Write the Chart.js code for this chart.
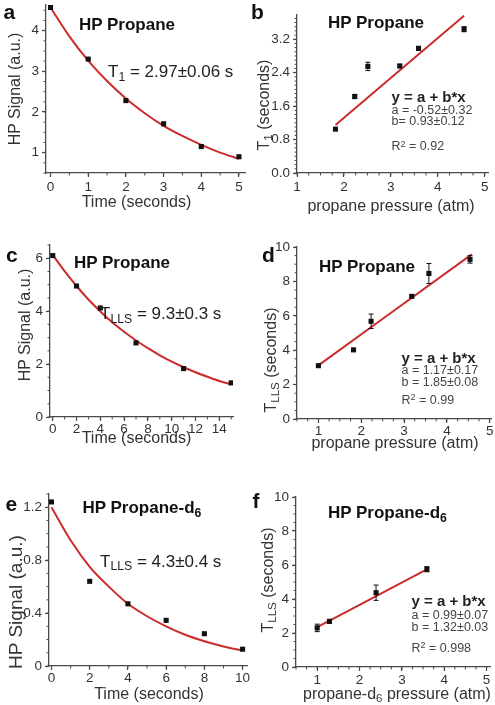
<!DOCTYPE html>
<html>
<head>
<meta charset="utf-8">
<script src="https://cdn.jsdelivr.net/npm/chart.js@4.4.1/dist/chart.umd.min.js"></script>
<style>
  html, body { margin: 0; padding: 0; background: #fff; }
  #fig { position: relative; width: 495px; height: 705px; overflow: hidden;
         font-family: "Liberation Sans", Arial, Helvetica, sans-serif; color: #222; }
  #fig canvas { position: absolute; }
  .txt { position: absolute; white-space: nowrap; line-height: 1; }
  .sub { font-size: 0.72em; position: relative; top: 0.3em; }
  .sup { font-size: 0.72em; position: relative; top: -0.42em; }
</style>
</head>
<body>
<div id="fig"></div>
<script>
/* ================= DATA ================= */
// a: HP propane T1 decay
const aTime = [0, 1, 2, 3, 4, 5];
const aSignal = [4.57, 3.30, 2.28, 1.71, 1.15, 0.90];
const aFitTime = [0, 0.5, 1, 1.5, 2, 2.5, 3, 3.5, 4, 4.5, 5];
const aFitSignal = [4.57, 3.86, 3.26, 2.76, 2.33, 1.97, 1.66, 1.41, 1.19, 1.00, 0.85];
const aTicksX = [0, 1, 2, 3, 4, 5];
const aTicksY = [1, 2, 3, 4];

// b: T1 vs propane pressure
const bPressure = [1.82, 2.23, 2.51, 3.19, 3.59, 4.56];
const bT1 = [1.05, 1.83, 2.55, 2.56, 2.98, 3.44];
const bErr = [0.03, 0.05, 0.10, 0.04, 0.05, 0.06];
const bFitX = [1.82, 4.56];
const bFitY = [1.15, 3.76];
const bTicksX = [1, 2, 3, 4, 5];
const bTicksY = [0, 0.8, 1.6, 2.4, 3.2];
const bLabelsY = ['0.0', '0.8', '1.6', '2.4', '3.2'];

// c: HP propane TLLS decay
const cTime = [0, 2, 4, 7, 11, 15];
const cSignal = [6.10, 4.95, 4.12, 2.80, 1.83, 1.29];
const cFitTime = [0, 1, 2, 3, 4, 5, 6, 7, 8, 9, 10, 11, 12, 13, 14, 15];
const cFitSignal = [6.13, 5.51, 4.95, 4.44, 3.99, 3.58, 3.22, 2.89, 2.60, 2.33, 2.09, 1.88, 1.69, 1.52, 1.36, 1.23];
const cTicksX = [0, 2, 4, 6, 8, 10, 12, 14];
const cTicksY = [0, 2, 4, 6];

// d: TLLS vs propane pressure
const dPressure = [1.00, 1.82, 2.23, 3.18, 3.58, 4.54];
const dTlls = [3.10, 4.02, 5.68, 7.13, 8.46, 9.28];
const dErr = [0.06, 0.05, 0.42, 0.06, 0.58, 0.22];
const dFitX = [1.00, 4.58];
const dFitY = [3.12, 9.57];
const dTicksX = [1, 2, 3, 4, 5];
const dTicksY = [0, 2, 4, 6, 8, 10];

// e: HP propane-d6 TLLS decay
const eTime = [0, 2, 4, 6, 8, 10];
const eSignal = [1.24, 0.64, 0.47, 0.345, 0.244, 0.127];
const eFitTime = [0, 1, 2, 3, 4, 5, 6, 7, 8, 9, 10];
const eFitSignal = [1.20, 0.95, 0.75, 0.60, 0.47, 0.376, 0.30, 0.236, 0.187, 0.148, 0.117];
const eTicksX = [0, 2, 4, 6, 8, 10];
const eTicksY = [0, 0.4, 0.8, 1.2];

// f: TLLS vs propane-d6 pressure
const fPressure = [1.00, 1.29, 2.39, 3.59];
const fTlls = [2.30, 2.68, 4.37, 5.75];
const fErr = [0.22, 0.12, 0.45, 0.15];
const fFitX = [1.00, 3.60];
const fFitY = [2.34, 5.76];
const fTicksX = [1, 2, 3, 4, 5];
const fTicksY = [0, 2, 4, 6, 8, 10];

/* ================= STYLE ================= */
const FONT = '"Liberation Sans", Arial, Helvetica, sans-serif';
const AXIS = '#4a4a4a';
const RED = '#cc2b2b';
const MARK = '#111';
const M = 24;     // spare canvas margin round each plot
const YAX = 45;   // y axis box width
const XAX = 30;   // x axis box height

const fig = document.getElementById('fig');

/* ================= PLUGINS ================= */
// small unlabeled ticks between the major ones
const minorTicks = {
    id: 'minorTicks',
    afterDraw(chart, args, opts) {
        const ctx = chart.ctx;
        ctx.save();
        ctx.strokeStyle = AXIS;
        ctx.lineWidth = 1;
        ['x', 'y'].forEach(id => {
            const s = chart.scales[id];
            const step = opts[id];
            if (!step) return;
            const n0 = Math.ceil(s.min / step - 1e-6);
            const n1 = Math.floor(s.max / step + 1e-6);
            for (let n = n0; n <= n1; n++) {
                const p = s.getPixelForValue(n * step);
                ctx.beginPath();
                if (id === 'x') {
                    ctx.moveTo(p, chart.chartArea.bottom);
                    ctx.lineTo(p, chart.chartArea.bottom + 2.5);
                } else {
                    ctx.moveTo(chart.chartArea.left, p);
                    ctx.lineTo(chart.chartArea.left - 2.5, p);
                }
                ctx.stroke();
            }
        });
        ctx.restore();
    }
};

// vertical error bars read from dataset.errors
const errorBars = {
    id: 'errorBars',
    afterDatasetsDraw(chart) {
        const ctx = chart.ctx;
        const xs = chart.scales.x, ys = chart.scales.y;
        ctx.save();
        ctx.strokeStyle = MARK;
        ctx.lineWidth = 1;
        chart.data.datasets.forEach(ds => {
            if (!ds.errors) return;
            ds.data.forEach((pt, i) => {
                const e = ds.errors[i];
                const x = xs.getPixelForValue(pt.x);
                const y0 = ys.getPixelForValue(pt.y - e);
                const y1 = ys.getPixelForValue(pt.y + e);
                ctx.beginPath();
                ctx.moveTo(x, y0); ctx.lineTo(x, y1);
                ctx.moveTo(x - 2.5, y0); ctx.lineTo(x + 2.5, y0);
                ctx.moveTo(x - 2.5, y1); ctx.lineTo(x + 2.5, y1);
                ctx.stroke();
            });
        });
        ctx.restore();
    }
};

/* ================= PANELS ================= */
function zip(xs, ys) {
    return xs.map((x, i) => ({ x: x, y: ys[i] }));
}

function axis(cfg, horizontal) {
    return {
        type: 'linear',
        min: cfg.min,
        max: cfg.max,
        afterFit(s) {
            if (horizontal) s.height = XAX; else s.width = YAX;
        },
        afterBuildTicks(s) {
            s.ticks = cfg.ticks.map(v => ({ value: v }));
        },
        ticks: {
            font: { family: FONT, size: 13.5 },
            color: '#333',
            padding: cfg.pad === undefined ? 3 : cfg.pad,
            callback: (v, i) => cfg.labels ? cfg.labels[i] : String(v)
        },
        grid: {
            drawOnChartArea: false,
            drawTicks: true,
            tickLength: 4,
            tickColor: AXIS,
            tickWidth: 1.2,
            color: AXIS
        },
        border: { color: AXIS, width: 1.3 }
    };
}

function makePanel(p) {
    const w = YAX + (p.box.r - p.box.l) + 2 * M;
    const h = (p.box.b - p.box.t) + XAX + 2 * M;
    const cv = document.createElement('canvas');
    cv.width = w;
    cv.height = h;
    cv.style.width = w + 'px';
    cv.style.height = h + 'px';
    cv.style.left = (p.box.l - YAX - M) + 'px';
    cv.style.top = (p.box.t - M) + 'px';
    fig.appendChild(cv);

    new Chart(cv, {
        type: 'scatter',
        data: {
            datasets: [
                {
                    type: 'line',
                    data: p.fit,
                    borderColor: RED,
                    borderWidth: 2,
                    pointRadius: 0,
                    cubicInterpolationMode: 'monotone',
                    fill: false,
                    order: 1
                },
                {
                    data: p.points,
                    errors: p.errors,
                    pointStyle: 'rect',
                    pointRadius: 3.6,
                    backgroundColor: MARK,
                    borderColor: MARK,
                    borderWidth: 0,
                    order: 0
                }
            ]
        },
        options: {
            responsive: false,
            animation: false,
            devicePixelRatio: 1,
            layout: { padding: M },
            plugins: {
                legend: { display: false },
                tooltip: { enabled: false },
                minorTicks: p.minor
            },
            scales: { x: axis(p.x, true), y: axis(p.y, false) }
        },
        plugins: [minorTicks, errorBars]
    });
}

makePanel({
    box: { l: 46, r: 245, t: 5, b: 173 },
    x: { min: -0.12, max: 5.16, ticks: aTicksX, pad: 2 },
    y: { min: 0.5, max: 4.63, ticks: aTicksY },
    minor: { x: 0.5, y: 0.25 },
    points: zip(aTime, aSignal),
    fit: zip(aFitTime, aFitSignal)
});
makePanel({
    box: { l: 297, r: 488, t: 15, b: 173 },
    x: { min: 1, max: 5.07, ticks: bTicksX, pad: 2 },
    y: { min: 0, max: 3.78, ticks: bTicksY, labels: bLabelsY },
    minor: { x: 0.25, y: 0.1 },
    points: zip(bPressure, bT1),
    errors: bErr,
    fit: zip(bFitX, bFitY)
});
makePanel({
    box: { l: 50, r: 233, t: 245, b: 417 },
    x: { min: -0.23, max: 15.15, ticks: cTicksX, pad: 0 },
    y: { min: 0, max: 6.5, ticks: cTicksY },
    minor: { x: 1, y: 0.5 },
    points: zip(cTime, cSignal),
    fit: zip(cFitTime, cFitSignal)
});
makePanel({
    box: { l: 297, r: 491, t: 247, b: 419 },
    x: { min: 0.5, max: 5.03, ticks: dTicksX, pad: 0 },
    y: { min: 0, max: 10, ticks: dTicksY },
    minor: { x: 0.25, y: 0.5 },
    points: zip(dPressure, dTlls),
    errors: dErr,
    fit: zip(dFitX, dFitY)
});
makePanel({
    box: { l: 49, r: 247, t: 494, b: 666 },
    x: { min: -0.13, max: 10.23, ticks: eTicksX, pad: 0 },
    y: { min: 0, max: 1.3, ticks: eTicksY },
    minor: { x: 1, y: 0.1 },
    points: zip(eTime, eSignal),
    fit: zip(eFitTime, eFitSignal)
});
makePanel({
    box: { l: 296, r: 490, t: 497, b: 667 },
    x: { min: 0.5, max: 5.08, ticks: fTicksX, pad: 1 },
    y: { min: 0, max: 10, ticks: fTicksY },
    minor: { x: 0.25, y: 0.5 },
    points: zip(fPressure, fTlls),
    errors: fErr,
    fit: zip(fFitX, fFitY)
});

/* ================= TEXT ================= */
// left aligned text placed by its baseline
function text(html, left, baseline, size, weight, color) {
    const d = document.createElement('div');
    d.className = 'txt';
    d.innerHTML = html;
    d.style.fontSize = size + 'px';
    d.style.fontWeight = weight || 'normal';
    d.style.color = color || '#222';
    d.style.left = left + 'px';
    d.style.top = (baseline - 0.85 * size) + 'px';
    fig.appendChild(d);
}

// centred text, optionally turned for y axis titles
function centred(html, cx, cy, size, rotate) {
    const d = document.createElement('div');
    d.className = 'txt';
    d.innerHTML = html;
    d.style.fontSize = size + 'px';
    d.style.color = '#333';
    d.style.left = cx + 'px';
    d.style.top = cy + 'px';
    d.style.transform = 'translate(-50%, -50%)' + (rotate ? ' rotate(-90deg)' : '');
    fig.appendChild(d);
}

const LET = 21, TTL = 17, ANN = 17, EQB = 15, EQ = 12.5, AX = 16;

// panel letters
text('a', 3.5, 19, LET, 'bold', '#111');
text('b', 251, 18.5, LET, 'bold', '#111');
text('c', 6, 262, LET, 'bold', '#111');
text('d', 262, 262, LET, 'bold', '#111');
text('e', 5.5, 510.5, LET, 'bold', '#111');
text('f', 252.5, 507.5, LET, 'bold', '#111');

// panel titles
text('HP Propane', 79, 30, TTL, 'bold', '#111');
text('HP Propane', 328, 28.5, TTL, 'bold', '#111');
text('HP Propane', 74, 268.5, TTL, 'bold', '#111');
text('HP Propane', 319, 272, TTL, 'bold', '#111');
text('HP Propane-d<span class="sub">6</span>', 82.5, 513.5, TTL, 'bold', '#111');
text('HP Propane-d<span class="sub">6</span>', 328, 518.5, TTL, 'bold', '#111');

// decay constants
text('T<span class="sub">1</span> = 2.97±0.06 s', 108, 77.5, ANN);
text('T<span class="sub">LLS</span> = 9.3±0.3 s', 100, 319.5, ANN);
text('T<span class="sub">LLS</span> = 4.3±0.4 s', 100, 567, ANN);

// linear fit results
text('y = a + b*x', 391.5, 101.5, EQB, 'bold', '#222');
text('a = -0.52±0.32', 391.5, 115, EQ, 'normal', '#444');
text('b= 0.93±0.12', 391.5, 126, EQ, 'normal', '#444');
text('R<span class="sup">2</span> = 0.92', 391.5, 151, EQ, 'normal', '#444');

text('y = a + b*x', 401.5, 362.7, EQB, 'bold', '#222');
text('a = 1.17±0.17', 401.5, 375, EQ, 'normal', '#444');
text('b = 1.85±0.08', 401.5, 386.5, EQ, 'normal', '#444');
text('R<span class="sup">2</span> = 0.99', 401.5, 404.5, EQ, 'normal', '#444');

text('y = a + b*x', 411.5, 606, EQB, 'bold', '#222');
text('a = 0.99±0.07', 411.5, 620, EQ, 'normal', '#444');
text('b = 1.32±0.03', 411.5, 632, EQ, 'normal', '#444');
text('R<span class="sup">2</span> = 0.998', 411.5, 652.5, EQ, 'normal', '#444');

// axis titles
centred('Time (seconds)', 136.5, 202, AX);
centred('propane pressure (atm)', 391, 206, AX);
centred('Time (seconds)', 136.5, 438, AX);
centred('propane pressure (atm)', 395, 443, AX);
centred('Time (seconds)', 149, 694, AX);
centred('propane-d<span class="sub">6</span> pressure (atm)', 397, 694, AX);

centred('HP Signal (a.u.)', 15, 89, AX, true);
centred('T<span class="sub">1</span> (seconds)', 264, 105, AX, true);
centred('HP Signal (a.u.)', 25, 325, AX, true);
centred('T<span class="sub">LLS</span> (seconds)', 270.5, 360, AX, true);
centred('HP Signal (a.u.)', 15, 602, 19, true);
centred('T<span class="sub">LLS</span> (seconds)', 268, 580, AX, true);
</script>
</body>
</html>
